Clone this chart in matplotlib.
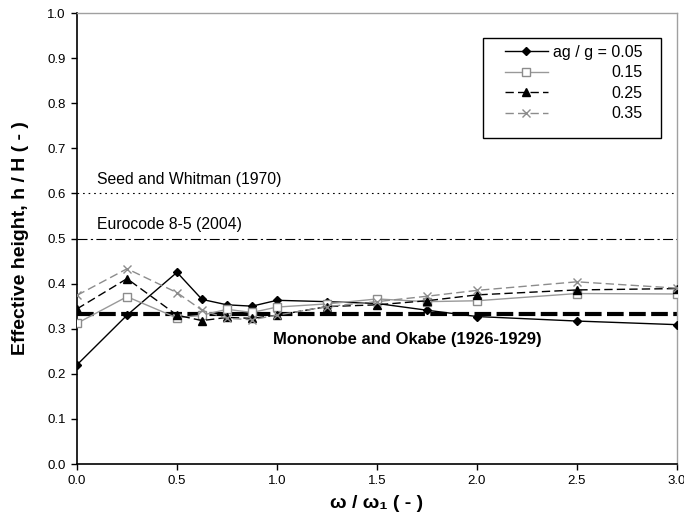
import numpy as np
import matplotlib
matplotlib.use("Agg")
import matplotlib.pyplot as plt
from matplotlib.patches import Rectangle

plt.rcParams['font.family'] = ['Liberation Sans', 'DejaVu Sans']

# frequency ratio w / w1
freq = [0, 0.25, 0.5, 0.625, 0.75, 0.875, 1.0, 1.25, 1.5, 1.75, 2.0, 2.5, 3.0]

# effective height h/H for each ag/g
h_005 = [0.220, 0.330, 0.425, 0.365, 0.353, 0.350, 0.363, 0.360, 0.356, 0.341, 0.327, 0.317, 0.309]
h_015 = [0.312, 0.371, 0.324, 0.330, 0.343, 0.336, 0.348, 0.355, 0.366, 0.360, 0.362, 0.378, 0.377]
h_025 = [0.344, 0.411, 0.330, 0.318, 0.325, 0.323, 0.330, 0.349, 0.353, 0.362, 0.375, 0.386, 0.389]
h_035 = [0.374, 0.433, 0.380, 0.341, 0.323, 0.320, 0.330, 0.349, 0.360, 0.372, 0.385, 0.404, 0.390]
labels = ['ag / g = 0.05', '0.15', '0.25', '0.35']

# reference solutions
h_seed = 0.6
h_euro = 0.5
h_mo = 1.0 / 3.0

fig = plt.figure(figsize=(6.84, 5.17), dpi=100)
ax = fig.add_axes([0.1126, 0.1025, 0.877, 0.8723])

ax.plot([0, 3], [h_mo, h_mo], color='black', lw=3, dashes=(4, 1.3), zorder=1)
ax.plot([0, 3], [h_seed, h_seed], color='black', lw=0.8, dashes=(1.5, 3.5), zorder=1)
ax.plot([0, 3], [h_euro, h_euro], color='black', lw=0.8, dashes=(9, 3, 2, 3), zorder=1)

ax.plot(freq, h_005, color='black', lw=1.0, marker='D', ms=4.5,
        mfc='black', mec='black', label=labels[0], zorder=3)
ax.plot(freq, h_015, color='#999999', lw=1.0, marker='s', ms=5.5,
        mfc='white', mec='#8c8c8c', label=labels[1], zorder=3)
ax.plot(freq, h_025, color='black', lw=1.0, dashes=(6, 3), marker='^', ms=6,
        mfc='black', mec='black', label=labels[2], zorder=3)
ax.plot(freq, h_035, color='#8c8c8c', lw=1.0, dashes=(6, 3), marker='x', ms=6,
        mew=1.0, mfc='#8c8c8c', mec='#8c8c8c', label=labels[3], zorder=3)

ax.text(0.1, 0.63, 'Seed and Whitman (1970)', fontsize=11.3, va='center', ha='left')
ax.text(0.1, 0.53, 'Eurocode 8-5 (2004)', fontsize=11.3, va='center', ha='left')
ax.text(0.98, 0.275, 'Mononobe and Okabe (1926-1929)', fontsize=12,
        fontweight='bold', va='center', ha='left')

ax.set_xlim(0, 3)
ax.set_ylim(0, 1)
ax.set_xticks(np.arange(0, 3.01, 0.5))
ax.set_yticks(np.arange(0, 1.01, 0.1))
ax.xaxis.set_major_formatter(matplotlib.ticker.FormatStrFormatter('%.1f'))
ax.yaxis.set_major_formatter(matplotlib.ticker.FormatStrFormatter('%.1f'))
ax.tick_params(direction='out', length=4, width=1, labelsize=9.5, pad=4)

for side in ['left', 'bottom']:
    ax.spines[side].set_color('black')
    ax.spines[side].set_linewidth(1.2)
for side in ['top', 'right']:
    ax.spines[side].set_color('#a0a0a0')
    ax.spines[side].set_linewidth(1.0)

ax.set_xlabel('ω / ω₁ ( - )', fontsize=14, fontweight='bold', labelpad=6)
ax.set_ylabel('Effective height, h / H ( - )', fontsize=14, fontweight='bold', labelpad=13)

# legend box drawn separately so the padding can be set freely
ax.add_patch(Rectangle((0.677, 0.723), 0.296, 0.222, transform=ax.transAxes,
                       fill=True, facecolor='white', edgecolor='black', lw=1.0, zorder=4))
leg = ax.legend(loc='upper left', bbox_to_anchor=(0.713, 0.93), borderaxespad=0,
                borderpad=0, frameon=False, fontsize=11.5,
                handlelength=2.7, handletextpad=0.3, labelspacing=0.35)
leg.set_zorder(5)

# right-align the legend labels
fig.canvas.draw()
texts = leg.get_texts()
widths = [t.get_window_extent().width for t in texts]
wmax = max(widths)
for t, w in zip(texts, widths):
    t.set_position((wmax - w, 0))

fig.savefig('out.png', dpi=100)
